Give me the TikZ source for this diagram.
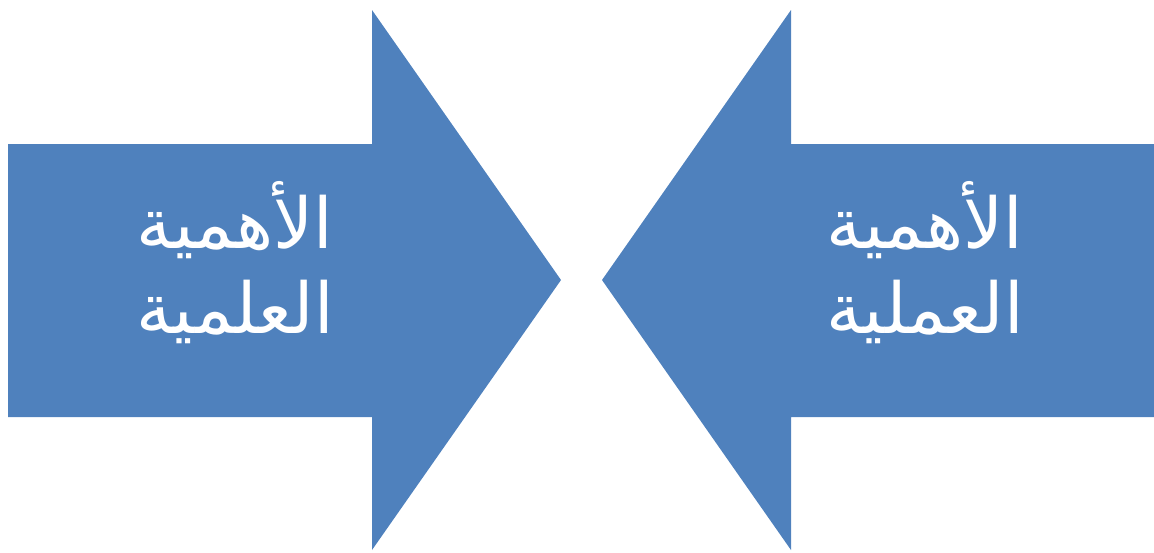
\documentclass[tikz,border=0pt]{standalone}
\usepackage{fontspec}
\newfontfamily\arabicfont[Script=Arabic]{DejaVu Sans}
\TeXXeTstate=1
\definecolor{arrowblue}{HTML}{4F81BD}
\begin{document}
\begin{tikzpicture}[
    x=0.02cm, y=-0.02cm,
    blockarr/.style={fill=arrowblue, draw=none},
    lbl/.style={text=white, font=\arabicfont\fontsize{40}{50}\selectfont, align=center, inner sep=0pt},
  ]
    % page frame, in pixels of the reference
    \useasboundingbox (0,0) rectangle (1154,552);

    % === Left arrow (points right) ===
    \coordinate (ltip) at (561,280);
    \fill[blockarr] (8,144) -- (372,144) -- (372,10) -- (ltip)
      -- (372,550) -- (372,417) -- (8,417) -- cycle;
    \node[lbl] (lhead) at (235,220) {\beginR الأهمية\endR};
    \node[lbl] (lsub) at (235,312) {\beginR العلمية\endR};

    % === Right arrow (points left) ===
    \coordinate (rtip) at (602,280);
    \fill[blockarr] (1154,144) -- (791,144) -- (791,10) -- (rtip)
      -- (791,550) -- (791,417) -- (1154,417) -- cycle;
    \node[lbl] (rhead) at (925,220) {\beginR الأهمية\endR};
    \node[lbl] (rsub) at (925,312) {\beginR العملية\endR};
  \end{tikzpicture}
\end{document}
